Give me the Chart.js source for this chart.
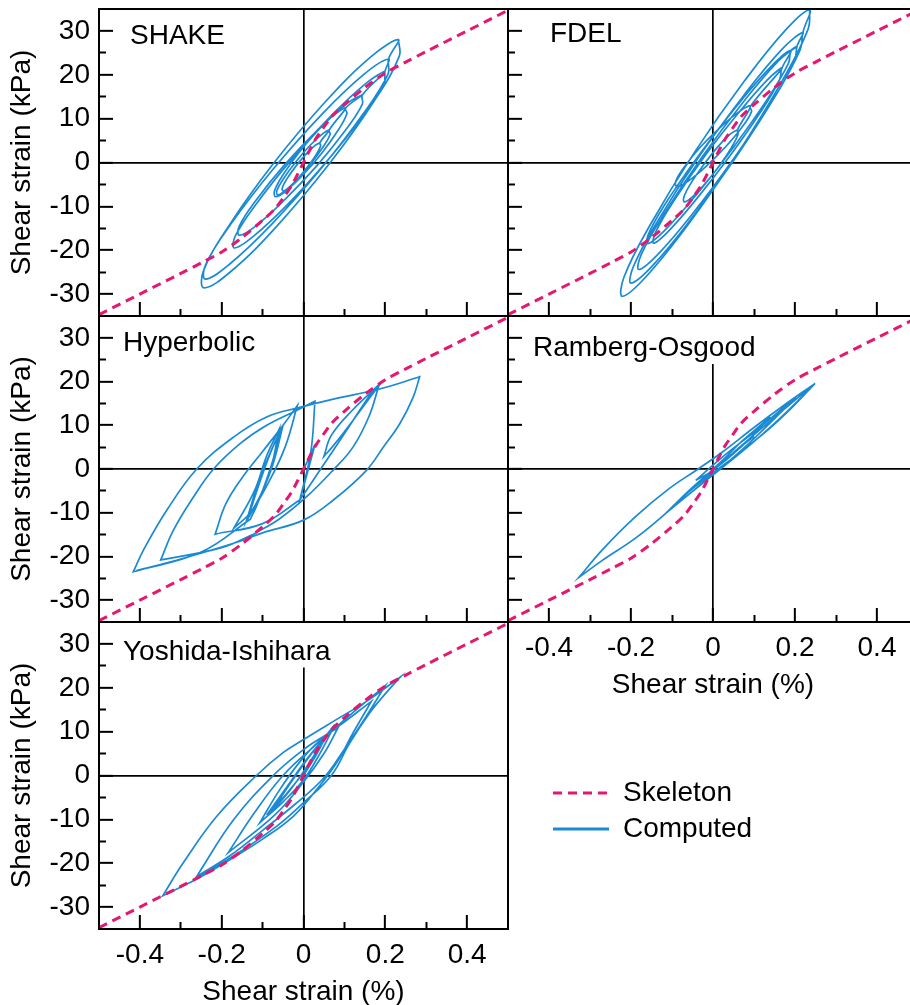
<!DOCTYPE html>
<html>
<head>
<meta charset="utf-8">
<title>Stress-strain loops by model</title>
<script src="https://cdn.jsdelivr.net/npm/chart.js@4.4.1/dist/chart.umd.min.js"></script>
<style>
  html, body { margin: 0; padding: 0; width: 910px; height: 1005px; overflow: hidden; background: #fff; }
  body { position: relative; }
  canvas { position: absolute; left: 0; top: 0; }
</style>
</head>
<body>
<canvas id="shake" width="940" height="1010"></canvas>
<canvas id="fdel" width="940" height="1010"></canvas>
<canvas id="hyper" width="940" height="1010"></canvas>
<canvas id="ro" width="940" height="1010"></canvas>
<canvas id="yi" width="940" height="1010"></canvas>
<canvas id="legend" width="940" height="1010"></canvas>
<script>
// ===== DATA =====
const xMajorTicks = [-0.4, -0.2, 0, 0.2, 0.4];
const xMinorTicks = [-0.3, -0.1, 0.1, 0.3];
const yMajorTicks = [-30, -20, -10, 0, 10, 20, 30];
const yMinorTicks = [-25, -15, -5, 5, 15, 25];

// skeleton curve (strain %, stress kPa)
const skeletonStrain = [-0.5, -0.4, -0.3, -0.25, -0.2, -0.15, -0.1, -0.07, -0.05, -0.03, -0.015, 0,
  0.015, 0.03, 0.05, 0.07, 0.1, 0.15, 0.2, 0.25, 0.3, 0.4, 0.5];
const skeletonStress = [-34.7, -30.0, -25.3, -22.9, -20.4, -17.1, -13.2, -10.6, -8.1, -5.4, -2.8, 0,
  2.8, 5.4, 8.1, 10.6, 13.2, 17.1, 20.4, 22.9, 25.3, 30.0, 34.7];

// computed loops, [strain, stress] in time order (a repeated point = sharp reversal)
const shakeLoops = [
  [0.040,4.5],[0.027,3.8],[0.005,1.8],[-0.020,-1.0],[-0.041,-3.8],[-0.052,-5.8],[-0.050,-6.5],[-0.037,-5.8],[-0.015,-3.8],[0.010,-1.0],[0.031,1.8],[0.042,3.8],[0.040,4.5],
  [0.063,7.4],[0.045,6.4],[0.014,3.7],[-0.020,0.0],[-0.049,-3.7],[-0.065,-6.4],[-0.063,-7.4],[-0.045,-6.4],[-0.014,-3.7],[0.020,0.0],[0.049,3.7],[0.065,6.4],[0.063,7.4],
  [0.103,12.4],[0.078,11.1],[0.036,7.4],[-0.011,2.3],[-0.050,-2.8],[-0.071,-6.5],[-0.068,-7.8],[-0.043,-6.5],[-0.001,-2.8],[0.046,2.3],[0.085,7.4],[0.106,11.1],[0.103,12.4],
  [0.144,15.4],[0.104,13.3],[0.034,7.4],[-0.047,-0.6],[-0.116,-8.6],[-0.157,-14.5],[-0.157,-16.6],[-0.117,-14.5],[-0.047,-8.6],[0.034,-0.6],[0.103,7.4],[0.144,13.3],[0.144,15.4],
  [0.199,20.7],[0.152,18.0],[0.068,10.7],[-0.030,0.6],[-0.116,-9.5],[-0.167,-16.8],[-0.169,-19.5],[-0.122,-16.8],[-0.038,-9.5],[0.060,0.6],[0.146,10.7],[0.197,18.0],[0.199,20.7],
  [0.208,23.6],[0.149,20.2],[0.046,11.1],[-0.074,-1.5],[-0.178,-14.1],[-0.239,-23.2],[-0.240,-26.6],[-0.181,-23.2],[-0.078,-14.1],[0.042,-1.5],[0.146,11.1],[0.207,20.2],[0.208,23.6],
  [0.232,28.0],[0.166,24.2],[0.054,13.9],[-0.074,-0.3],[-0.183,-14.5],[-0.245,-24.8],[-0.243,-28.6],[-0.177,-24.8],[-0.065,-14.5],[0.063,-0.3],[0.172,13.9],[0.234,24.2],[0.232,28.0]
];
const fdelLoops = [
  [0.060,7.5],[0.041,6.4],[0.010,3.4],[-0.025,-0.8],[-0.055,-4.9],[-0.071,-7.9],[-0.070,-9.0],[-0.051,-7.9],[-0.020,-4.9],[0.015,-0.8],[0.045,3.4],[0.061,6.4],[0.060,7.5],
  [0.091,12.8],[0.064,11.6],[0.020,8.2],[-0.029,3.7],[-0.069,-0.9],[-0.091,-4.3],[-0.088,-5.5],[-0.061,-4.3],[-0.017,-0.9],[0.032,3.7],[0.072,8.2],[0.094,11.6],[0.091,12.8],
  [0.168,21.5],[0.132,18.8],[0.064,11.5],[-0.019,1.6],[-0.093,-8.4],[-0.139,-15.7],[-0.145,-18.4],[-0.109,-15.7],[-0.041,-8.4],[0.042,1.6],[0.116,11.5],[0.162,18.8],[0.168,21.5],
  [0.190,25.5],[0.149,22.6],[0.072,14.5],[-0.020,3.5],[-0.103,-7.5],[-0.154,-15.6],[-0.160,-18.5],[-0.119,-15.6],[-0.042,-7.5],[0.050,3.5],[0.133,14.5],[0.184,22.6],[0.190,25.5],
  [0.205,26.5],[0.159,23.1],[0.074,13.8],[-0.028,1.1],[-0.119,-11.7],[-0.175,-21.0],[-0.181,-24.4],[-0.135,-21.0],[-0.050,-11.7],[0.052,1.1],[0.143,13.8],[0.199,23.1],[0.205,26.5],
  [0.219,29.6],[0.168,25.8],[0.075,15.3],[-0.036,1.1],[-0.134,-13.2],[-0.194,-23.7],[-0.200,-27.5],[-0.149,-23.7],[-0.056,-13.2],[0.055,1.1],[0.153,15.3],[0.213,25.8],[0.219,29.6],
  [0.236,34.8],[0.179,30.4],[0.076,18.5],[-0.046,2.2],[-0.153,-14.2],[-0.217,-26.1],[-0.221,-30.5],[-0.164,-26.1],[-0.061,-14.2],[0.061,2.2],[0.168,18.5],[0.232,30.4],[0.236,34.8]
];
const hyperLoops = [
  [0,0],[0.015,2.8],[0.028,5.6],[0.028,5.6],
  [0.012,0],[-0.009,-7.1],[-0.009,-7.1],
  [0.04,-0.3],[0.105,8.8],[0.17,17.9],[0.19,19.8],[0.19,19.8],
  [0.12,11.0],[0.07,5.0],[0.05,2.9],[0.05,2.9],[0.068,7.7],[0.12,13.5],[0.185,19.3],[0.185,19.3],
  [0.16,12.0],[0.121,5.0],[0.072,-0.3],[0.007,-6.4],[-0.06,-11.5],[-0.12,-14.8],[-0.12,-14.8],
  [-0.2,-18.0],[-0.349,-20.8],[-0.349,-20.8],
  [-0.318,-14.0],[-0.269,-6.4],[-0.22,0],[-0.155,5.8],[-0.09,10.0],[-0.017,13.4],[0.028,15.5],[0.028,15.5],
  [0.018,4.0],[-0.009,-7.1],[-0.009,-7.1],
  [-0.1,-12.5],[-0.216,-14.9],[-0.216,-14.9],
  [-0.19,-8.0],[-0.15,-2.0],[-0.1,4.0],[-0.05,10.0],[-0.015,14.5],[-0.015,14.5],
  [-0.045,5.0],[-0.085,-3.0],[-0.13,-10.0],[-0.17,-13.5],[-0.17,-13.5],
  [-0.12,-5.0],[-0.09,3.0],[-0.06,9.0],[-0.06,9.0],
  [-0.08,0],[-0.11,-7.0],[-0.14,-12.0],[-0.14,-12.0],
  [-0.11,-3.0],[-0.08,4.0],[-0.05,10.0],[-0.05,10.0],
  [-0.075,1.0],[-0.105,-6.0],[-0.135,-11.0],[-0.135,-11.0],
  [-0.105,-2.5],[-0.075,5.0],[-0.055,8.5],[-0.055,8.5],
  [-0.085,-1.0],[-0.115,-8.5],[-0.13,-11.5],[-0.13,-11.5],
  [-0.25,-19.0],[-0.416,-23.5],[-0.416,-23.5],
  [-0.391,-18.5],[-0.334,-9.4],[-0.261,0],[-0.171,7.3],[-0.09,11.9],[-0.009,14.1],[0.073,16.0],[0.186,18.3],[0.284,21.1],[0.284,21.1],
  [0.268,16.4],[0.235,10.3],[0.195,5.0],[0.154,-0.3],[0.073,-7.1],[0,-11.7],[-0.1,-14.6],[-0.171,-17.0],[-0.3,-20.6],[-0.41,-23.3]
];
const roLoops = [
  [0,0],[0.03,2.6],[0.07,6.3],[0.14,11.9],[0.14,11.9],
  [0.07,5.2],[0,-0.3],[-0.042,-2.6],[-0.042,-2.6],
  [0.02,2.5],[0.11,9.2],[0.202,16.4],[0.202,16.4],
  [0.14,10.6],[0.06,3.5],[-0.02,-2.8],[-0.116,-10.2],[-0.116,-10.2],
  [-0.04,-3.6],[0.06,4.6],[0.16,12.6],[0.249,19.6],[0.249,19.6],
  [0.19,13.8],[0.137,9.2],[0.055,3.0],[0,-0.9],[-0.06,-5.3],[-0.116,-10.2],[-0.189,-15.8],[-0.27,-20.9],[-0.327,-24.8],[-0.327,-24.8],
  [-0.27,-18.5],[-0.189,-10.9],[-0.107,-4.5],[-0.038,-0.1],[0.023,3.9],[0.1,9.5],[0.169,14.3],[0.249,19.6],[0.249,19.6],
  [0.16,11.3],[0.07,3.9],[-0.03,-3.6],[-0.116,-10.2],[-0.116,-10.2],
  [-0.05,-4.2],[0.03,2.2],[0.1,7.5]
];
const yiLoops = [
  [0,0],[0.03,4.5],[0.05,8.0],[0.05,8.0],
  [0.01,2.0],[-0.04,-4.0],[-0.09,-9.0],[-0.09,-9.0],
  [-0.04,-2.5],[0.01,4.0],[0.055,9.0],[0.055,9.0],
  [0.015,3.0],[-0.03,-3.0],[-0.08,-8.5],[-0.08,-8.5],
  [-0.03,-1.5],[0.02,5.0],[0.0765,11.6],[0.0765,11.6],
  [0.04,5.0],[0,-1.0],[-0.05,-6.0],[-0.107,-10.8],[-0.107,-10.8],
  [-0.06,-3.5],[-0.01,3.0],[0.04,8.0],[0.085,11.0],[0.085,11.0],
  [0.05,5.0],[0,-1.5],[-0.07,-9.0],[-0.184,-17.6],[-0.184,-17.6],
  [-0.12,-8.5],[-0.05,0],[0.03,7.0],[0.11,13.5],[0.2,20.5],[0.2,20.5],
  [0.15,13.0],[0.1,6.0],[0.05,-0.5],[-0.02,-6.5],[-0.1,-12.5],[-0.18,-18.3],[-0.261,-23.0],[-0.261,-23.0],
  [-0.171,-10.1],[-0.074,0],[0,5.9],[0.073,10.4],[0.166,16.9],[0.166,16.9],
  [0.121,9.7],[0.081,2.9],[0.032,-3.2],[-0.025,-9.3],[-0.1,-14.5],[-0.18,-19.2],[-0.261,-23.6],[-0.344,-27.4],[-0.344,-27.4],
  [-0.294,-19.9],[-0.212,-9.3],[-0.115,0],[-0.05,5.2],[0,8.2],[0.081,12.8],[0.154,16.9],[0.237,22.5],[0.237,22.5],
  [0.195,18.1],[0.162,14.3],[0.113,7.4],[0.068,0],[0,-6.2],[-0.066,-11.6],[-0.172,-18.4],[-0.26,-23.2]
];

const seriesNames = ["Skeleton", "Computed"];

// ===== STYLE / LAYOUT =====
const W = 940, H = 1010;
const PINK = "#e5176e";
const BLUE = "#1a8ad4";
const FONT = '"Liberation Sans", Arial, Helvetica, sans-serif';
const tickFont = { family: FONT, size: 28, lineHeight: 1 };
const titleFont = { family: FONT, size: 28, lineHeight: 1.2 };

// box = chart area [left, top, right, bottom] in page px, tag = name [x, baseline]
const panels = [
  { id: "shake", name: "SHAKE", data: shakeLoops, box: [99, 9, 508, 316], tag: [130, 43.5], yLabels: true, xLabels: false },
  { id: "fdel", name: "FDEL", data: fdelLoops, box: [508, 9, 918, 316], tag: [550, 42], yLabels: false, xLabels: false },
  { id: "hyper", name: "Hyperbolic", data: hyperLoops, box: [99, 316, 508, 622], tag: [123, 351], yLabels: true, xLabels: false },
  { id: "ro", name: "Ramberg-Osgood", data: roLoops, box: [508, 316, 918, 622], tag: [533, 356], yLabels: false, xLabels: true },
  { id: "yi", name: "Yoshida-Ishihara", data: yiLoops, box: [99, 622, 508, 929], tag: [123, 659.5], yLabels: true, xLabels: true }
];

// ===== HELPERS =====
const $ = (id) => document.getElementById(id);
const toXY = (xs, ys) => xs.map((x, i) => ({ x, y: ys[i] }));
const setTicks = (arr) => (s) => { s.ticks = arr.map((v) => ({ value: v })); };
const zeroOnly = (c) => (c.tick && c.tick.value === 0 ? "#000" : "rgba(0,0,0,0)");
const inward = (len) => ({ drawTicks: true, tickLength: -len, tickWidth: 2, tickColor: "#000" });

Chart.defaults.font.family = FONT;

// panel name with a white patch behind it (hides the zero line there)
const panelTag = {
  id: "panelTag",
  afterDatasetsDraw(chart, args, opts) {
    const { ctx, chartArea: a } = chart;
    ctx.save();
    ctx.font = `28px ${FONT}`;
    const w = ctx.measureText(opts.text).width;
    ctx.fillStyle = "#fff";
    ctx.fillRect(opts.x - 4, a.top + 1, w + 8, opts.y + 8 - a.top - 1);
    ctx.fillStyle = "#000";
    ctx.textBaseline = "alphabetic";
    ctx.fillText(opts.text, opts.x, opts.y);
    ctx.restore();
  }
};

const frame = {
  id: "frame",
  afterDraw(chart) {
    const { ctx, chartArea: a } = chart;
    ctx.save();
    ctx.strokeStyle = "#000";
    ctx.lineWidth = 2;
    ctx.strokeRect(a.left, a.top, a.right - a.left, a.bottom - a.top);
    ctx.restore();
  }
};

function buildPanel(p) {
  const [l, t, r, b] = p.box;
  const yW = p.yLabels ? l : 0;
  const xH = p.xLabels ? 80 : 0;
  return new Chart($(p.id), {
    type: "line",
    data: {
      datasets: [
        { label: seriesNames[0], data: toXY(skeletonStrain, skeletonStress), xAxisID: "x", yAxisID: "y",
          borderColor: PINK, borderWidth: 3, borderDash: [9, 6], tension: 0.3, fill: false },
        { label: seriesNames[1], data: p.data.map(([x, y]) => ({ x, y })), xAxisID: "x", yAxisID: "y",
          borderColor: BLUE, borderWidth: 1.7, tension: 0.4, fill: false }
      ]
    },
    options: {
      responsive: false, animation: false, events: [],
      layout: { padding: { left: l - yW, top: t, right: W - r, bottom: H - b - xH } },
      elements: { point: { radius: 0 } },
      plugins: {
        legend: { display: false }, tooltip: { enabled: false },
        panelTag: { text: p.name, x: p.tag[0], y: p.tag[1] }
      },
      scales: {
        x: {
          type: "linear", position: "bottom", min: -0.5, max: 0.5, weight: 1,
          afterBuildTicks: setTicks(xMajorTicks),
          afterFit: (s) => { s.height = xH; s.paddingLeft = 0; s.paddingRight = 0; },
          border: { display: false },
          grid: { ...inward(14), lineWidth: 1.7, color: zeroOnly },
          ticks: { display: p.xLabels, autoSkip: false, maxRotation: 0, padding: 26, color: "#000", font: tickFont,
                   callback: (v) => (v === 0 ? "0" : v.toFixed(1)) },
          title: { display: p.xLabels, text: "Shear strain (%)", color: "#000", font: titleFont, padding: 0 }
        },
        xm: {
          type: "linear", position: "bottom", min: -0.5, max: 0.5, weight: 0,
          afterBuildTicks: setTicks(xMinorTicks),
          afterFit: (s) => { s.height = 0; },
          border: { display: false },
          grid: { ...inward(7), drawOnChartArea: false },
          ticks: { display: false }
        },
        y: {
          type: "linear", position: "left", min: -35, max: 35, weight: 1,
          afterBuildTicks: setTicks(yMajorTicks),
          afterFit: (s) => { s.width = yW; s.paddingTop = 0; s.paddingBottom = 0; },
          border: { display: false },
          grid: { ...inward(14), lineWidth: 1.7, color: zeroOnly },
          ticks: { display: p.yLabels, autoSkip: false, padding: 23, color: "#000", font: tickFont,
                   callback: (v) => String(v) },
          title: { display: p.yLabels, text: "Shear strain (kPa)", color: "#000", font: titleFont,
                   padding: { top: 5.7, bottom: 0 } }
        },
        ym: {
          type: "linear", position: "left", min: -35, max: 35, weight: 0,
          afterBuildTicks: setTicks(yMinorTicks),
          afterFit: (s) => { s.width = 0; },
          border: { display: false },
          grid: { ...inward(7), drawOnChartArea: false },
          ticks: { display: false }
        }
      }
    },
    plugins: [panelTag, frame]
  });
}

function buildLegend() {
  return new Chart($("legend"), {
    type: "line",
    data: {
      datasets: [
        { label: seriesNames[0], data: [], borderColor: PINK, borderWidth: 3, borderDash: [9, 6] },
        { label: seriesNames[1], data: [], borderColor: BLUE, borderWidth: 3 }
      ]
    },
    options: {
      responsive: false, animation: false, events: [],
      layout: { padding: { left: 545, top: 771 } },
      scales: { x: { display: false }, y: { display: false } },
      plugins: {
        tooltip: { enabled: false },
        legend: {
          position: "left", align: "start", maxWidth: 380,
          labels: {
            usePointStyle: true, pointStyle: "line", pointStyleWidth: 56, padding: 8,
            color: "#000", font: { family: FONT, size: 28 },
            generateLabels: (chart) => chart.data.datasets.map((ds, i) => ({
              text: ds.label, datasetIndex: i, hidden: false, pointStyle: "line",
              strokeStyle: ds.borderColor, fillStyle: ds.borderColor, lineWidth: ds.borderWidth,
              lineDash: ds.borderDash || [], lineCap: "butt", fontColor: "#000"
            }))
          }
        }
      }
    }
  });
}

// ===== INIT =====
panels.forEach(buildPanel);
buildLegend();
</script>
</body>
</html>
